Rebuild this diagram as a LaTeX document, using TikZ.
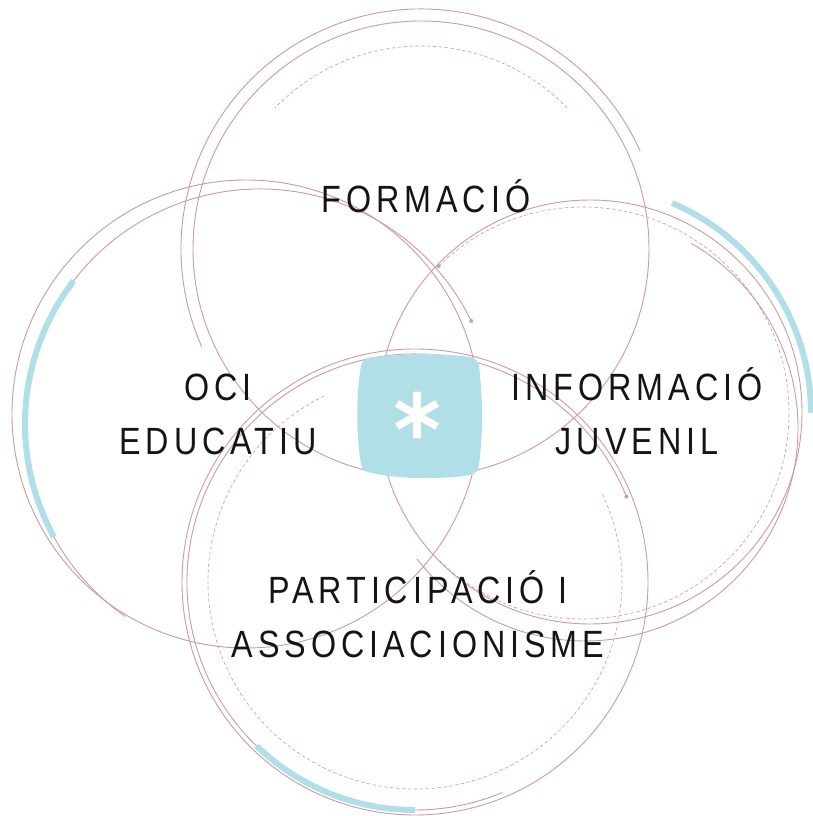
\documentclass[tikz,border=0pt]{standalone}
\usepackage{fontspec}
\newfontfamily\labelfont[FakeStretch=0.85,LetterSpace=13]{Liberation Sans}
\definecolor{rose}{RGB}{206,156,156}
\definecolor{aqua}{RGB}{176,223,232}

\begin{document}
\begin{tikzpicture}[
    x=0.025cm, y=0.025cm,
    ring/.style    ={draw=rose, line width=0.65pt},
    ringdash/.style={draw=rose, line width=0.45pt, dash pattern=on 2.4pt off 1.8pt},
    accent/.style  ={draw=aqua, line width=4.3pt},
    area/.style    ={font=\labelfont\fontsize{27}{39}\selectfont, align=center, text=black!92, inner sep=0pt},
]
\useasboundingbox (0,0) rectangle (812,816);
\fill[white] (0,0) rectangle (812,816);

%==================== CENTRES ====================
\coordinate (topc)    at (421,567);
\coordinate (leftc)   at (246,402);
\coordinate (left2c)  at (260,392);
\coordinate (rightc)  at (590,404);
\coordinate (right2c) at (585,388);
\coordinate (rdashc)  at (583,403);
\coordinate (botc)    at (415,234);

%==================== TOP: FORMACIO ====================
\draw[ring] (topc) circle[radius=228];
\draw[ring] (topc) ++(24:240) arc[start angle=24, end angle=204, radius=240];
\draw[ringdash] (topc) ++(44:203) arc[start angle=44, end angle=136, radius=203];

%==================== LEFT: OCI EDUCATIU ====================
\draw[ring] (leftc) circle[radius=234];
\draw[ring] (left2c) ++(26:235) arc[start angle=26, end angle=235, radius=235];
\fill[rose] (left2c) ++(26:235) circle[radius=2];

%==================== RIGHT: INFORMACIO JUVENIL ====================
\draw[ring] (rightc) circle[radius=212];
\draw[ring] (right2c) ++(60:213) arc[start angle=60, end angle=-142, radius=213];
\draw[ringdash] (rdashc) ++(134.5:206) arc[start angle=134.5, end angle=-134.5, radius=206];
\fill[rose] (rdashc) ++(134.5:206) circle[radius=2];

%==================== BOTTOM: PARTICIPACIO ====================
\draw[ring] (botc) circle[radius=233];
\draw[ring] (botc) ++(22:228) arc[start angle=22, end angle=292.5, radius=228];
\draw[ringdash] (botc) ++(116:207) arc[start angle=116, end angle=385, radius=207];
\fill[rose] (botc) ++(22:228) circle[radius=2];

%==================== ACCENTS ====================
\draw[accent] (left2c) ++(142.5:235) arc[start angle=142.5, end angle=208.7, radius=235];
\draw[accent] (rdashc) ++(0:228) arc[start angle=0, end angle=67, radius=228];
\draw[accent] (botc) ++(226:228) arc[start angle=226, end angle=270, radius=228];

%==================== CENTRE PATCH ====================
\fill[aqua] (367,458) .. controls (400,463) and (440,463) .. (470,459)
  .. controls (476,458) and (478,455) .. (479,450)
  .. controls (483,416) and (483,381) .. (479,351)
  .. controls (478,345) and (475,342) .. (470,341)
  .. controls (440,336) and (395,337) .. (368,344)
  .. controls (363,345) and (362,348) .. (361,352)
  .. controls (356,381) and (356,421) .. (361,450)
  .. controls (362,455) and (364,457) .. (367,458) -- cycle;

\coordinate (star) at (417,401);
\foreach \a in {90,30,150}
  \draw[draw=gray!25, line width=5.8pt] (star) ++(\a:23.6) -- ++(\a+180:47.2);
\foreach \a in {90,30,150}
  \draw[draw=white, line width=5pt] (star) ++(\a:23) -- ++(\a+180:46);

%==================== LABELS ====================
% two-line labels sit on the baseline of their last line
\node[area, anchor=base] (formacio) at (426,603) {FORMACIÓ};
\node[area, anchor=base] (oci)      at (218,361) {OCI\\EDUCATIU};
\node[area, anchor=base] (info)     at (637,361) {INFORMACIÓ\\JUVENIL};
\node[area, anchor=base] (partic)   at (418,158) {PARTICIPACIÓ I\\ASSOCIACIONISME};

\end{tikzpicture}
\end{document}
